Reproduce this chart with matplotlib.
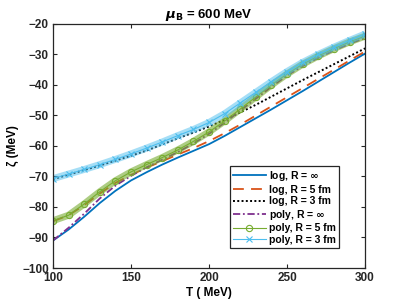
"""zeta vs T at mu_B = 600 MeV, log and poly fits for several R."""
import matplotlib
matplotlib.use("Agg")
from matplotlib import pyplot as plt

plt.rcParams['font.family'] = ['Liberation Sans', 'DejaVu Sans']
plt.rcParams['font.weight'] = 'bold'

temp = [100, 110, 120, 130, 140, 150, 160, 170, 180, 190, 200,
        210, 220, 230, 240, 250, 260, 270, 280, 290, 300]
log_inf = [-91.0, -87.4, -83.2, -78.7, -74.7, -71.3, -68.6, -66.1, -63.8, -61.6, -59.4,
           -56.7, -53.8, -50.9, -48.0, -45.0, -42.0, -38.9, -35.8, -32.7, -29.7]
log_5 = [-84.7, -82.7, -79.4, -75.6, -72.1, -69.5, -67.1, -65.0, -62.8, -60.7, -58.4,
         -55.8, -53.0, -50.0, -47.0, -44.0, -41.0, -38.0, -35.0, -32.0, -29.0]
log_3 = [-70.9, -69.4, -67.9, -66.4, -64.8, -63.2, -61.5, -59.5, -57.5, -55.6, -53.6,
         -51.4, -49.0, -46.5, -43.8, -41.1, -38.4, -35.8, -33.2, -30.6, -28.0]
poly_inf = [-91.0, -86.8, -82.2, -77.2, -73.0, -69.8, -67.0, -64.5, -62.0, -59.2, -56.0,
            -52.4, -48.4, -44.5, -40.6, -36.9, -33.8, -31.1, -28.7, -26.5, -24.6]
poly_5 = [-84.5, -82.7, -79.0, -75.0, -71.4, -68.5, -66.1, -63.8, -61.3, -58.5, -55.4,
          -51.8, -47.9, -43.9, -40.0, -36.4, -33.2, -30.5, -28.1, -25.9, -24.0]
poly_3 = [-70.7, -69.2, -67.7, -66.1, -64.4, -62.6, -60.7, -58.7, -56.6, -54.6, -52.3,
          -49.4, -45.9, -42.4, -38.9, -35.6, -32.6, -30.0, -27.6, -25.4, -23.3]

fig = plt.figure(figsize=(4.03, 3.03), dpi=100)
ax = fig.add_axes([0.1315, 0.1155, 0.7745, 0.8055])

ax.plot(temp, log_inf, color='#0072BD', lw=1.3, label='log, R = $\\infty$')
ax.plot(temp, log_5, color='#D95319', lw=1.3, ls=(0, (6, 4)), label='log, R = 5 fm')
ax.plot(temp, log_3, color='black', lw=1.4, ls=(0, (1, 1.2)), label='log, R = 3 fm')
ax.plot(temp, poly_inf, color='#7E2F8E', lw=1.3, ls=(0, (4, 1.5, 1, 1.5)), label='poly, R = $\\infty$')
# dense markers in the original form a band, a wide pale line stands in for it
ax.plot(temp, poly_5, color='#77AC30', lw=5, alpha=0.6, solid_capstyle='butt')
ax.plot(temp, poly_5, color='#77AC30', lw=0.8, marker='o', ms=4.5, mfc='none', mew=0.8,
        label='poly, R = 5 fm')
ax.plot(temp, poly_3, color='#4DBEEE', lw=5, alpha=0.5, solid_capstyle='butt')
ax.plot(temp, poly_3, color='#4DBEEE', lw=0.8, marker='x', ms=4, mew=0.8,
        label='poly, R = 3 fm')

ax.set_xlim(100, 300)
ax.set_ylim(-100, -20)
ax.set_xticks([100, 150, 200, 250, 300])
ax.set_yticks(range(-100, -19, 10))
ax.tick_params(direction='in', top=True, right=True, length=3, width=0.8,
               labelsize=8.5, colors='#262626', pad=3)
for s in ax.spines.values():
    s.set_color('#262626')
    s.set_linewidth(0.9)

ax.set_title('$\\mu_\\mathbf{B}$ = 600 MeV', fontsize=9.5, fontweight='bold', pad=4)
ax.set_xlabel('T ( MeV)', fontsize=8.5, fontweight='bold', labelpad=2)
ax.set_ylabel('ζ (MeV)', fontsize=8.5, fontweight='bold', labelpad=2)

leg = ax.legend(loc='lower right', bbox_to_anchor=(0.917, 0.082), borderaxespad=0,
                fontsize=7.5, handlelength=3.2, handletextpad=0.3, labelspacing=0.15,
                borderpad=0.3, fancybox=False, framealpha=1)
leg.get_frame().set_edgecolor('#262626')
leg.get_frame().set_linewidth(0.9)

fig.savefig('out.png', dpi=100)
